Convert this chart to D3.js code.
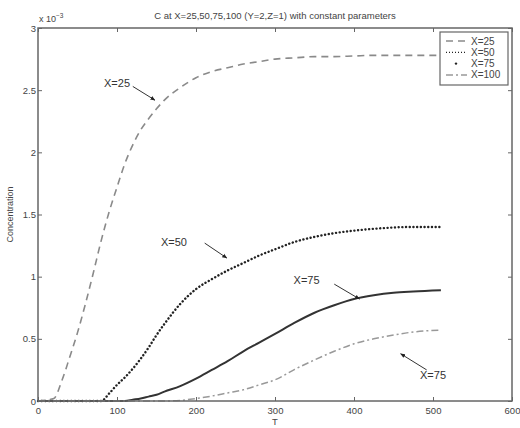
<!DOCTYPE html>
<html><head><meta charset="utf-8">
<script src="https://cdn.jsdelivr.net/npm/d3@7"></script>
<style>
body{margin:0;background:#fff;}
text{font-family:"Liberation Sans",Arial,sans-serif;}
</style></head>
<body><svg id="c" width="520" height="428"></svg>
<script>
const T = [0,20,30,40,50,60,70,80,90,100,110,120,130,140,150,160,180,200,220,240,260,280,300,325,350,375,400,425,450,475,510];
const cX25 = [0,0.02,0.16,0.35,0.55,0.78,1.03,1.29,1.52,1.72,1.91,2.06,2.18,2.27,2.35,2.42,2.52,2.60,2.65,2.68,2.71,2.73,2.75,2.76,2.77,2.77,2.775,2.78,2.78,2.78,2.78];
const cX50 = [0,0,0,0,0,0,0,0,0.06,0.13,0.19,0.26,0.34,0.43,0.53,0.62,0.78,0.90,0.98,1.05,1.11,1.17,1.22,1.28,1.32,1.35,1.37,1.385,1.395,1.40,1.40];
const cX75 = [0,0,0,0,0,0,0,0,0,0,0,0.01,0.02,0.035,0.05,0.075,0.12,0.18,0.25,0.32,0.40,0.47,0.54,0.63,0.71,0.77,0.82,0.85,0.87,0.88,0.89];
const cX100 = [0,0,0,0,0,0,0,0,0,0,0,0,0,0,0,0,0.005,0.02,0.04,0.065,0.09,0.13,0.17,0.255,0.33,0.40,0.46,0.50,0.53,0.555,0.57];
const seriesNames = ["X=25","X=50","X=75","X=100"];
const xTicks = [0,100,200,300,400,500,600];
const yTicks = [0,0.5,1,1.5,2,2.5,3];
const titleText = "C at X=25,50,75,100 (Y=2,Z=1) with constant parameters";
const xLabel = "T", yLabel = "Concentration";
// annotations: [label, text t, text v, arrow from t,v, arrow to t,v]
const annLabels = ["X=25","X=50","X=75","X=75"];
const annText = [[100,2.56],[172,1.28],[340,0.97],[500,0.21]];
const annFrom = [[120,2.53],[211,1.27],[375,0.94],[492,0.25]];
const annTo = [[148,2.42],[239,1.15],[407,0.82],[459,0.38]];

const svg = d3.select("#c");
const m = {l:38, r:512, t:28, b:401};
const x = d3.scaleLinear().domain([0,600]).range([m.l,m.r]);
const y = d3.scaleLinear().domain([0,3]).range([m.b,m.t]);
const axisCol = "#666";

const styles = [
  {stroke:"#8a8a8a", w:1.6, dash:"7 5", cap:"butt"},
  {stroke:"#222", w:2.4, dash:"0.1 3.6", cap:"round"},
  {stroke:"#333", w:2, dash:null, cap:"butt"},
  {stroke:"#999", w:1.5, dash:"7 3 2 3", cap:"butt"}
];
const data = [cX25,cX50,cX75,cX100];
const line = d3.line().x((d,i)=>x(T[i])).y(d=>y(d)).curve(d3.curveMonotoneX);
data.forEach((vals,k)=>{
  const s = styles[k];
  svg.append("path").datum(vals).attr("d",line).attr("fill","none")
    .attr("stroke",s.stroke).attr("stroke-width",s.w)
    .attr("stroke-dasharray",s.dash).attr("stroke-linecap",s.cap);
});

function styleAxis(g){
  g.select(".domain").remove();
  g.selectAll(".tick line").attr("stroke",axisCol).attr("stroke-width",1);
  g.selectAll("text").attr("fill","#444").style("font-size","9.5px");
}
svg.append("g").attr("transform",`translate(0,${m.b})`)
  .call(d3.axisBottom(x).tickValues(xTicks).tickSize(-4).tickPadding(6).tickFormat(d3.format("d")))
  .call(styleAxis);
svg.append("g").attr("transform",`translate(0,${m.t})`)
  .call(d3.axisTop(x).tickValues(xTicks).tickSize(-4).tickFormat(""))
  .call(styleAxis);
svg.append("g").attr("transform",`translate(${m.l},0)`)
  .call(d3.axisLeft(y).tickValues(yTicks).tickSize(-4).tickPadding(2).tickFormat(d=>d))
  .call(styleAxis);
svg.append("g").attr("transform",`translate(${m.r},0)`)
  .call(d3.axisRight(y).tickValues(yTicks).tickSize(-4).tickFormat(""))
  .call(styleAxis);
svg.append("rect").attr("x",m.l).attr("y",m.t).attr("width",m.r-m.l).attr("height",m.b-m.t)
  .attr("fill","none").attr("stroke",axisCol).attr("stroke-width",1.5);

// exponent
const ex = svg.append("text").attr("x",39).attr("y",22).attr("fill","#444").style("font-size","9px");
ex.append("tspan").text("x 10");
ex.append("tspan").attr("dy",-4).style("font-size","6.5px").text("−3");

// title
svg.append("text").attr("x",(m.l+m.r)/2).attr("y",19).attr("text-anchor","middle")
  .attr("fill","#444").style("font-size","9.5px").text(titleText);
svg.append("text").attr("x",(m.l+m.r)/2).attr("y",425).attr("text-anchor","middle")
  .attr("fill","#444").style("font-size","9.5px").text(xLabel);
svg.append("text").attr("transform",`translate(13,${(m.t+m.b)/2}) rotate(-90)`).attr("text-anchor","middle")
  .attr("fill","#444").style("font-size","9px").text(yLabel);

// annotations
svg.append("defs").append("marker").attr("id","ah").attr("viewBox","0 0 10 10").attr("refX",9).attr("refY",5)
  .attr("markerWidth",5).attr("markerHeight",5).attr("orient","auto")
  .append("path").attr("d","M0,1 L10,5 L0,9 Z").attr("fill","#222");
annLabels.forEach((lab,i)=>{
  svg.append("text").attr("x",x(annText[i][0])).attr("y",y(annText[i][1])).attr("text-anchor","middle")
    .attr("dy","0.35em").attr("fill","#333").style("font-size","11px").text(lab);
  svg.append("line").attr("x1",x(annFrom[i][0])).attr("y1",y(annFrom[i][1]))
    .attr("x2",x(annTo[i][0])).attr("y2",y(annTo[i][1]))
    .attr("stroke","#333").attr("stroke-width",1).attr("marker-end","url(#ah)");
});

// legend
const lg = svg.append("g");
lg.append("rect").attr("x",440).attr("y",32).attr("width",68).attr("height",53)
  .attr("fill","#fff").attr("stroke",axisCol).attr("stroke-width",1.2);
seriesNames.forEach((n,i)=>{
  const yy = 41 + i*11.3;
  const s = styles[i];
  if(i===2){
    lg.append("circle").attr("cx",456).attr("cy",yy).attr("r",1.2).attr("fill","#222");
  } else {
    lg.append("line").attr("x1",446).attr("x2",467).attr("y1",yy).attr("y2",yy)
      .attr("stroke",s.stroke).attr("stroke-width",i===1?1.2:s.w)
      .attr("stroke-dasharray",i===1?"1 2":s.dash);
  }
  lg.append("text").attr("x",471).attr("y",yy).attr("dy","0.35em").attr("fill","#444")
    .style("font-size","10px").text(n);
});
</script></body></html>
